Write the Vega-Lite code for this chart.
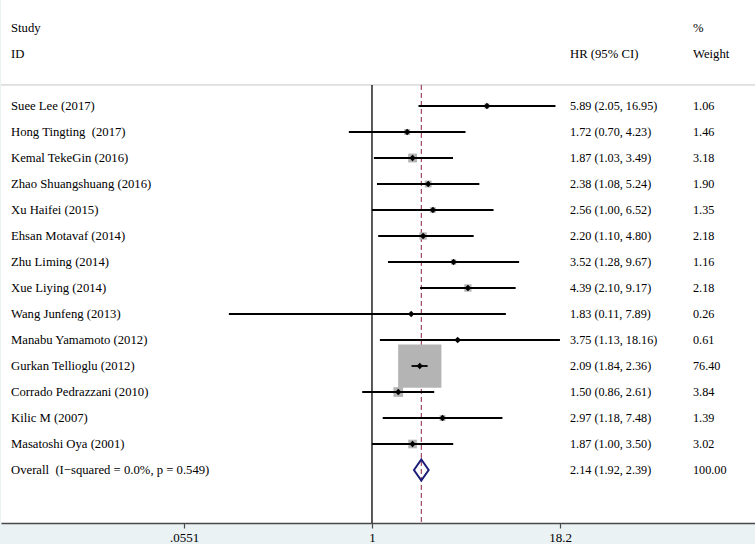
{
  "$schema": "https://vega.github.io/schema/vega-lite/v6.json",
  "width": 755,
  "height": 523,
  "padding": 0,
  "autosize": {"type": "pad"},
  "background": "#eaf2f3",
  "view": {"fill": "white", "stroke": null},
  "config": {"font": "Liberation Serif", "text": {"font": "Liberation Serif", "fontSize": 12, "color": "black"}},
  "datasets": {
    "studies": [
      {"row": 1, "kind": "study", "study": "Suee Lee (2017)", "hr": 5.89, "lo": 2.05, "hi": 16.95, "w": 1.06},
      {"row": 2, "kind": "study", "study": "Hong Tingting\u00a0 (2017)", "hr": 1.72, "lo": 0.70, "hi": 4.23, "w": 1.46},
      {"row": 3, "kind": "study", "study": "Kemal TekeGin (2016)", "hr": 1.87, "lo": 1.03, "hi": 3.49, "w": 3.18},
      {"row": 4, "kind": "study", "study": "Zhao Shuangshuang (2016)", "hr": 2.38, "lo": 1.08, "hi": 5.24, "w": 1.90},
      {"row": 5, "kind": "study", "study": "Xu Haifei (2015)", "hr": 2.56, "lo": 1.00, "hi": 6.52, "w": 1.35},
      {"row": 6, "kind": "study", "study": "Ehsan Motavaf (2014)", "hr": 2.20, "lo": 1.10, "hi": 4.80, "w": 2.18},
      {"row": 7, "kind": "study", "study": "Zhu Liming (2014)", "hr": 3.52, "lo": 1.28, "hi": 9.67, "w": 1.16},
      {"row": 8, "kind": "study", "study": "Xue Liying (2014)", "hr": 4.39, "lo": 2.10, "hi": 9.17, "w": 2.18},
      {"row": 9, "kind": "study", "study": "Wang Junfeng (2013)", "hr": 1.83, "lo": 0.11, "hi": 7.89, "w": 0.26},
      {"row": 10, "kind": "study", "study": "Manabu Yamamoto (2012)", "hr": 3.75, "lo": 1.13, "hi": 18.16, "w": 0.61},
      {"row": 11, "kind": "study", "study": "Gurkan Tellioglu (2012)", "hr": 2.09, "lo": 1.84, "hi": 2.36, "w": 76.40},
      {"row": 12, "kind": "study", "study": "Corrado Pedrazzani (2010)", "hr": 1.50, "lo": 0.86, "hi": 2.61, "w": 3.84},
      {"row": 13, "kind": "study", "study": "Kilic M (2007)", "hr": 2.97, "lo": 1.18, "hi": 7.48, "w": 1.39},
      {"row": 14, "kind": "study", "study": "Masatoshi Oya (2001)", "hr": 1.87, "lo": 1.00, "hi": 3.50, "w": 3.02},
      {"row": 15, "kind": "overall", "study": "Overall\u00a0 (I−squared = 0.0%, p = 0.549)", "hr": 2.14, "lo": 1.92, "hi": 2.39, "w": 100.00}
    ],
    "headers": [
      {"row": -2, "col": "study", "text": "Study"},
      {"row": -1, "col": "study", "text": "ID"},
      {"row": -1, "col": "ci", "text": "HR (95% CI)"},
      {"row": -2, "col": "wt", "text": "%"},
      {"row": -1, "col": "wt", "text": "Weight"}
    ]
  },
  "layer": [
    {
      "data": {"values": [{}]},
      "mark": {"type": "rule", "color": "#c4c4c4", "strokeWidth": 1},
      "encoding": {
        "y": {"datum": 0.19, "type": "quantitative", "scale": {"domain": [-3.077, 17.038], "reverse": true, "nice": false, "zero": false}, "axis": null}
      }
    },
    {
      "data": {"values": [{}]},
      "mark": {"type": "rule", "color": "#222222", "strokeWidth": 1.5},
      "encoding": {
        "x": {"datum": 1, "type": "quantitative", "title": null,
          "scale": {"type": "log", "domain": [0.003273, 373.6], "nice": false},
          "axis": {"values": [0.0551, 1, 18.2], "labelExpr": "datum.value < 0.1 ? '.0551' : datum.value == 1 ? '1' : '18.2'", "grid": false, "title": null, "domainColor": "#4a4a4a", "domainWidth": 1.7, "tickColor": "#4a4a4a", "tickWidth": 1.2, "tickSize": 5, "labelFont": "Liberation Serif", "labelFontSize": 13, "labelColor": "black", "labelPadding": 3, "labelFlush": false, "labelOverlap": false}},
        "y": {"datum": 0.19, "type": "quantitative", "axis": null},
        "y2": {"datum": 17.038}
      }
    },
    {
      "data": {"name": "studies"},
      "transform": [{"filter": "datum.kind == 'overall'"}],
      "mark": {"type": "rule", "color": "#8e2140", "strokeWidth": 1, "strokeDash": [5, 3]},
      "encoding": {
        "x": {"field": "hr", "type": "quantitative", "title": null},
        "y": {"datum": 0.19, "type": "quantitative", "axis": null},
        "y2": {"datum": 17.038}
      }
    },
    {
      "data": {"name": "studies"},
      "transform": [{"filter": "datum.kind == 'study'"}],
      "mark": {"type": "point", "shape": "square", "filled": true, "color": "#b4b4b4", "opacity": 1},
      "encoding": {
        "x": {"field": "hr", "type": "quantitative", "title": null},
        "y": {"field": "row", "type": "quantitative", "axis": null},
        "size": {"field": "w", "type": "quantitative", "scale": {"type": "linear", "domain": [0, 100], "range": [0, 2450], "zero": true}, "legend": null}
      }
    },
    {
      "data": {"name": "studies"},
      "transform": [{"filter": "datum.kind == 'study'"}],
      "mark": {"type": "rule", "color": "black", "strokeWidth": 1.8},
      "encoding": {
        "x": {"field": "lo", "type": "quantitative", "title": null},
        "x2": {"field": "hi"},
        "y": {"field": "row", "type": "quantitative", "axis": null}
      }
    },
    {
      "data": {"name": "studies"},
      "transform": [{"filter": "datum.kind == 'study'"}],
      "mark": {"type": "point", "shape": "diamond", "filled": true, "color": "black", "size": 40, "opacity": 1},
      "encoding": {
        "x": {"field": "hr", "type": "quantitative", "title": null},
        "y": {"field": "row", "type": "quantitative", "axis": null}
      }
    },
    {
      "data": {"name": "studies"},
      "transform": [{"filter": "datum.kind == 'overall'"}],
      "mark": {"type": "point", "shape": "M-0.7,0L0,-1L0.7,0L0,1Z", "filled": false, "color": "#1c1c78", "strokeWidth": 2, "size": 441, "opacity": 1},
      "encoding": {
        "x": {"field": "hr", "type": "quantitative", "title": null},
        "y": {"field": "row", "type": "quantitative", "axis": null}
      }
    },
    {
      "data": {"name": "studies"},
      "mark": {"type": "text", "align": "left", "baseline": "middle", "fontSize": 12.7},
      "encoding": {
        "x": {"value": 10},
        "y": {"field": "row", "type": "quantitative", "axis": null},
        "text": {"field": "study"}
      }
    },
    {
      "data": {"name": "studies"},
      "transform": [{"calculate": "format(datum.hr, '.2f') + ' (' + format(datum.lo, '.2f') + ', ' + format(datum.hi, '.2f') + ')'", "as": "ci"}],
      "mark": {"type": "text", "align": "left", "baseline": "middle", "fontSize": 12.2},
      "encoding": {
        "x": {"value": 569},
        "y": {"field": "row", "type": "quantitative", "axis": null},
        "text": {"field": "ci"}
      }
    },
    {
      "data": {"name": "studies"},
      "transform": [{"calculate": "format(datum.w, '.2f')", "as": "wt"}],
      "mark": {"type": "text", "align": "left", "baseline": "middle", "fontSize": 12.2},
      "encoding": {
        "x": {"value": 692},
        "y": {"field": "row", "type": "quantitative", "axis": null},
        "text": {"field": "wt"}
      }
    },
    {
      "data": {"name": "headers"},
      "transform": [{"filter": "datum.col == 'study'"}],
      "mark": {"type": "text", "align": "left", "baseline": "middle", "fontSize": 12.7},
      "encoding": {
        "x": {"value": 10},
        "y": {"field": "row", "type": "quantitative", "axis": null},
        "text": {"field": "text"}
      }
    },
    {
      "data": {"name": "headers"},
      "transform": [{"filter": "datum.col == 'ci'"}],
      "mark": {"type": "text", "align": "left", "baseline": "middle", "fontSize": 12.7},
      "encoding": {
        "x": {"value": 569},
        "y": {"field": "row", "type": "quantitative", "axis": null},
        "text": {"field": "text"}
      }
    },
    {
      "data": {"name": "headers"},
      "transform": [{"filter": "datum.col == 'wt'"}],
      "mark": {"type": "text", "align": "left", "baseline": "middle", "fontSize": 12.7},
      "encoding": {
        "x": {"value": 692},
        "y": {"field": "row", "type": "quantitative", "axis": null},
        "text": {"field": "text"}
      }
    }
  ]
}
